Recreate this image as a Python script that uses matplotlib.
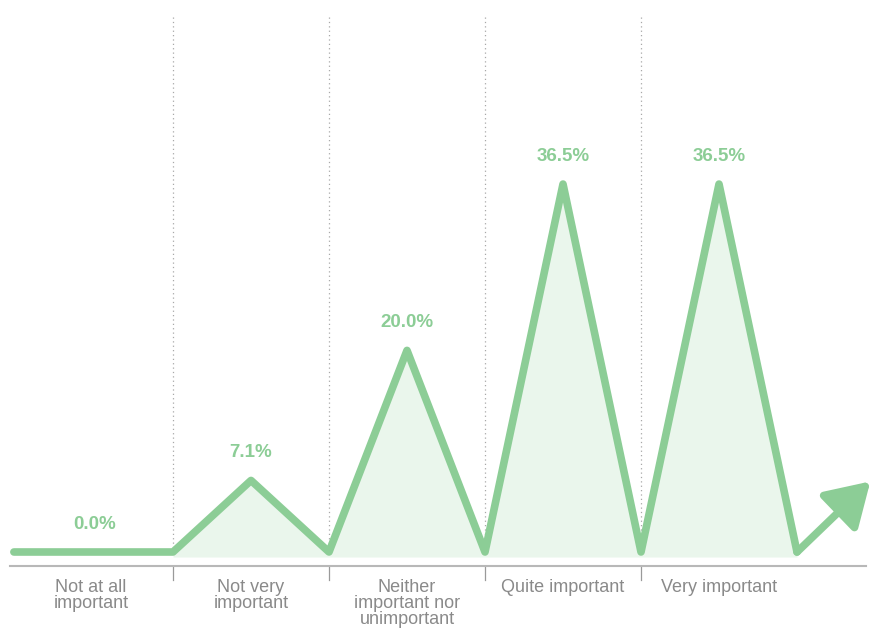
import matplotlib
matplotlib.use("Agg")
import matplotlib.pyplot as plt

categories = [
    "Not at all\nimportant",
    "Not very\nimportant",
    "Neither\nimportant nor\nunimportant",
    "Quite important",
    "Very important",
]
values = [0.0, 7.1, 20.0, 36.5, 36.5]
value_labels = ["0.0%", "7.1%", "20.0%", "36.5%", "36.5%"]

GREEN = "#8ccd96"
FILL = "#eaf6ec"
GREY_TEXT = "#8a8a8a"

plt.rcParams["font.family"] = ["Liberation Sans", "DejaVu Sans"]

fig = plt.figure(figsize=(8.85, 6.28), dpi=100)
ax = fig.add_axes([0, 0, 1, 1])
ax.set_xlim(-0.609, 5.064)
ax.set_ylim(-7.54, 54.76)
ax.axis("off")

# zigzag path: down to zero at every category boundary, up to the value at the centre
xs = [-0.52]
ys = [0.0]
for i, v in enumerate(values):
    xs += [i, i + 0.5]
    ys += [v, 0.0]

# light fill under the peaks (starts at first boundary)
fx = [x for x in xs if x >= 0.5]
fy = ys[len(xs) - len(fx):]
ax.fill_between(fx, fy, -0.5, color=FILL, lw=0, zorder=1)

# dotted separators and ticks
n = len(categories)
for b in range(n - 1):
    xb = b + 0.5
    ax.plot([xb, xb], [0, 53.4], color="#a8a8a8", lw=0.9,
            linestyle=(0, (1, 2.5)), zorder=0.5)
    ax.plot([xb, xb], [-1.4, -2.8], color="#9a9a9a", lw=0.9, zorder=2)

# baseline axis
ax.plot([-0.545, 4.94], [-1.4, -1.4], color="#b8b8b8", lw=1.5, zorder=2)

ax.plot(xs, ys, color=GREEN, lw=5.5, solid_capstyle="round",
        solid_joinstyle="round", zorder=3)

# trailing arrow
ax.annotate("", xy=(4.97, 7.0), xytext=(xs[-1], ys[-1]),
            arrowprops=dict(arrowstyle="-|>,head_length=2.6,head_width=1.6",
                            mutation_scale=10, lw=5.5, color=GREEN,
                            shrinkA=0, shrinkB=0, capstyle="round"),
            zorder=3)

for i, (v, lab) in enumerate(zip(values, value_labels)):
    ax.annotate(lab, xy=(i, v), xytext=(0, 14), textcoords="offset points",
                ha="center", va="bottom", fontsize=13.5, fontweight="bold",
                color=GREEN)

for i, c in enumerate(categories):
    x = i if i > 0 else -0.026
    ax.text(x, -2.65, c, ha="center", va="top", fontsize=13,
            color=GREY_TEXT, linespacing=0.95)

fig.savefig("out.png", dpi=100)
